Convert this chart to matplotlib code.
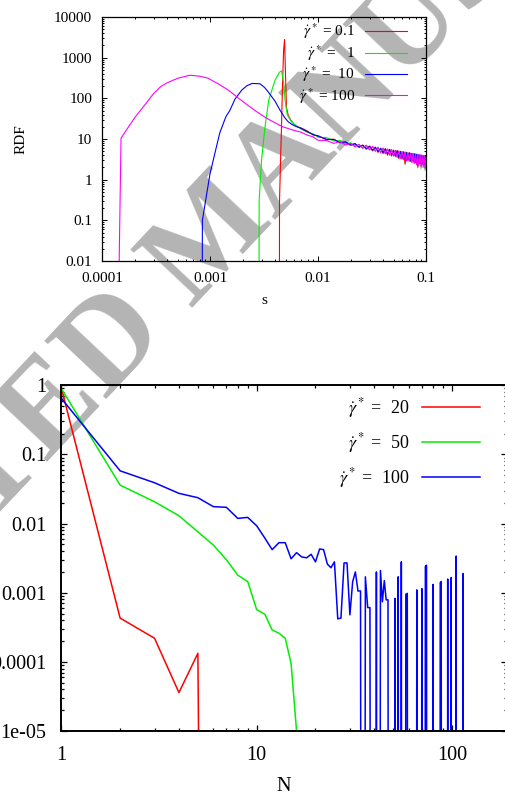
import matplotlib
matplotlib.use('Agg')
import matplotlib.pyplot as plt
from matplotlib.ticker import FixedLocator, FuncFormatter, NullFormatter, LogLocator
import numpy as np

plt.rcParams['font.family'] = ['Liberation Serif', 'DejaVu Serif']
plt.rcParams['mathtext.fontset'] = 'stix'

# ---------- top panel: RDF vs s ----------
# rising part of each curve (0 = empty bin)
s_head_01 = [0.0043, 0.0044, 0.0045, 0.0046, 0.0047, 0.0048, 0.0049, 0.0050, 0.0051, 0.0053, 0.0056, 0.0060, 0.0065]
g_head_01 = [0, 0.3, 3, 25, 250, 1500, 2800, 400, 60, 38, 29, 23, 20]

s_head_1 = [0.0028, 0.00285, 0.0030, 0.00323, 0.0035, 0.0040, 0.0044, 0.0046, 0.0048, 0.00495, 0.0052, 0.0056, 0.0060, 0.0065]
g_head_1 = [0, 0.3, 3.0, 20, 91, 280, 440, 470, 250, 91, 39, 28, 23, 20]

s_head_10 = [0.0008, 0.00085, 0.0010, 0.00123, 0.0014, 0.00153, 0.0017, 0.00197, 0.0022, 0.00245, 0.0029,
             0.0032, 0.00345, 0.0040, 0.00445, 0.0049, 0.0053, 0.0057, 0.0062]
g_head_10 = [0, 0.1, 1.4, 14, 35, 51, 95, 160, 205, 232, 228, 185, 145, 85, 51, 34, 26.5, 23, 20.5]

s_head_100 = [0.0001, 0.00015, 0.0002, 0.00025, 0.0003, 0.00035, 0.0004, 0.0005, 0.00065, 0.0008, 0.00095,
              0.0012, 0.0015, 0.0018, 0.0022, 0.0027, 0.0033, 0.0040, 0.0047, 0.0055, 0.0060]
g_head_100 = [0, 10.5, 33, 70, 130, 195, 240, 310, 370, 350, 315, 225, 155, 105, 70, 47, 33, 25, 20, 17.5, 16.3]

# noisy common tail
s_tail = [0.007, 0.008, 0.009, 0.010, 0.012, 0.014, 0.016, 0.018, 0.020, 0.022, 0.024, 0.026, 0.028, 0.030,
          0.032, 0.034, 0.036, 0.038, 0.040, 0.042, 0.044, 0.046, 0.048, 0.050, 0.052, 0.054, 0.056, 0.058,
          0.060, 0.062, 0.064, 0.066, 0.068, 0.070, 0.072, 0.074, 0.076, 0.078, 0.080, 0.082, 0.084, 0.086,
          0.088, 0.090, 0.092, 0.094, 0.096, 0.098, 0.100]
g_tail_01 = [18.6, 15.6, 12.6, 12.1, 9.6, 9.9, 8.0, 8.6, 7.0, 7.8, 6.2, 7.1, 5.6, 6.7, 5.1, 6.3, 4.7, 5.9,
             4.4, 5.8, 4.0, 5.6, 3.8, 5.3, 3.7, 5.2, 3.3, 5.0, 3.2, 4.8, 2.4, 4.7, 2.9, 4.6, 2.8, 4.4, 2.7,
             4.3, 2.6, 4.2, 2.0, 4.1, 2.5, 4.0, 2.4, 3.9, 2.3, 3.8, 2.4]
g_tail_1 = [17.4, 14.6, 13.5, 11.0, 10.8, 8.9, 9.2, 7.5, 8.1, 6.7, 7.4, 6.0, 7.0, 5.5, 6.5, 5.1, 6.1, 4.8,
            5.8, 4.5, 5.6, 4.2, 5.4, 4.0, 5.2, 3.7, 5.0, 3.6, 4.9, 3.3, 4.7, 3.2, 4.6, 3.0, 4.4, 2.9, 4.3,
            2.8, 4.2, 2.6, 4.1, 2.5, 4.0, 1.9, 3.9, 2.3, 3.8, 1.7, 3.6]
g_tail_10 = [18.2, 15.0, 12.8, 11.8, 9.8, 9.7, 8.2, 8.4, 7.1, 7.6, 6.3, 7.0, 5.8, 6.6, 5.3, 6.2, 4.9, 5.9,
             4.6, 5.7, 4.3, 5.5, 4.1, 5.2, 3.9, 5.1, 3.6, 4.9, 3.4, 4.8, 3.3, 4.6, 3.1, 4.5, 3.0, 4.4, 2.9,
             4.3, 2.7, 4.2, 2.6, 4.1, 2.5, 4.0, 2.4, 3.9, 2.3, 3.8, 2.5]
g_tail_100 = [14.6, 12.4, 11.3, 9.3, 9.2, 7.8, 8.6, 7.1, 7.8, 6.4, 7.3, 5.9, 7.0, 5.4, 6.6, 5.0, 6.3, 4.6,
              6.0, 4.3, 5.7, 4.0, 5.5, 3.8, 5.3, 3.5, 5.1, 3.3, 4.9, 3.1, 4.8, 2.9, 4.6, 2.8, 4.5, 2.6, 4.4,
              2.5, 4.3, 2.3, 4.2, 2.2, 4.1, 2.1, 4.0, 2.0, 3.9, 1.9, 3.7]

top_labels = [r'$\dot{\gamma}^*$ = 0.1', r'$\dot{\gamma}^*$ =   1',
              r'$\dot{\gamma}^*$ =  10', r'$\dot{\gamma}^*$ = 100']

# ---------- bottom panel: distribution vs N ----------
n_20 = [1, 2, 3, 4, 5, 6]
p_20 = [0.92, 4.3e-4, 2.2e-4, 3.6e-5, 1.33e-4, 0]

n_50 = list(range(1, 18))
p_50 = [0.90, 0.036, 0.0207, 0.013, 0.0076, 0.0049, 0.0030, 0.0018, 0.00145, 0.00057, 0.00049,
        0.00029, 0.00026, 0.00022, 9.5e-5, 1.0e-5, 0]

n_100 = list(range(1, 121))
p_100 = [0.65, 0.058, 0.039, 0.0274, 0.0237, 0.0176, 0.0172, 0.0119, 0.0123, 0.0093,
         0.0062, 0.0042, 0.0053, 0.0053, 0.0031, 0.0038, 0.0033, 0.0032, 0.0036, 0.0028,
         0.0043, 0.0042, 0.0026, 0.0023, 0.0028, 0.00042, 0.00043, 0.0027, 0.0027, 0.00048,
         0.00145, 0.0020, 0.00106, 0.00106, 0, 0.0017, 0.00061, 0.00061, 0, 0,
         0.0020, 0, 0.0021, 0.00074, 0.0015, 0.00079, 0.00079, 0, 0, 0,
         0.00083, 0, 0.0017, 0, 0.0028, 0, 0, 0.00095, 0.00098, 0,
         0, 0, 0, 0, 0, 0.0011, 0, 0, 0, 0.00115,
         0, 0, 0.0024, 0.0025, 0, 0, 0, 0, 0, 0.00132,
         0, 0, 0, 0, 0, 0, 0.0014, 0.00145, 0, 0,
         0, 0, 0, 0, 0.00158, 0, 0, 0, 0.00166, 0,
         0, 0, 0, 0, 0.0034, 0, 0, 0, 0, 0,
         0, 0, 0, 0.0019, 0, 0, 0, 0, 0, 0]

bottom_labels = [r'$\dot{\gamma}^*$ =  20', r'$\dot{\gamma}^*$ =  50', r'$\dot{\gamma}^*$ =  100']

colors = ['#ff0000', '#00ee00', '#0000ff', '#ff00ff']
FLOOR = 1e-30   # empty bins drop below the axis like in gnuplot


def nz(v):
    v = np.asarray(v, dtype=float)
    return np.where(v > 0, v, FLOOR)


def gformat(v, pos):
    return '%g' % v


fig = plt.figure(figsize=(5.05, 7.94), dpi=100)

# watermark behind everything
fig.text(0.47, 0.672, 'ACCEPTED MANUSCRIPT', rotation=46.7, rotation_mode='anchor',
         ha='center', va='baseline', fontsize=93, fontweight='bold', color='#b4b4b4', zorder=-1)

# ---- top ----
ax1 = fig.add_axes([0.202, 0.6713, 0.6416, 0.3073])
ax1.set_facecolor('none')
top_series = [(s_head_01, g_head_01, g_tail_01), (s_head_1, g_head_1, g_tail_1),
              (s_head_10, g_head_10, g_tail_10), (s_head_100, g_head_100, g_tail_100)]
for (sh, gh, gt), c, lab in zip(top_series, colors, top_labels):
    ax1.plot(list(sh) + s_tail, nz(list(gh) + gt), color=c, lw=0.8, label=lab)
ax1.set_xscale('log')
ax1.set_yscale('log')
ax1.set_xlim(1e-4, 0.1)
ax1.set_ylim(0.01, 10000)
ax1.xaxis.set_major_locator(FixedLocator([1e-4, 1e-3, 1e-2, 1e-1]))
ax1.yaxis.set_major_locator(FixedLocator([0.01, 0.1, 1, 10, 100, 1000, 10000]))
for a in (ax1.xaxis, ax1.yaxis):
    a.set_major_formatter(FuncFormatter(gformat))
    a.set_minor_locator(LogLocator(subs=np.arange(2, 10), numticks=50))
    a.set_minor_formatter(NullFormatter())
ax1.tick_params(which='both', direction='in', top=True, right=True, width=0.7)
ax1.tick_params(which='major', length=3.4, labelsize=11)
ax1.tick_params(which='minor', length=1.7)
ax1.tick_params(axis='y', pad=7)
ax1.tick_params(axis='x', pad=8)
for sp in ax1.spines.values():
    sp.set_linewidth(0.9)
ax1.set_ylabel('RDF', fontsize=11)
ax1.yaxis.set_label_coords(-0.23, 0.5)
ax1.set_xlabel('s', fontsize=11)
ax1.xaxis.set_label_coords(0.5, -0.135)
ax1.legend(loc='upper right', bbox_to_anchor=(0.9404, 0.98), frameon=False, markerfirst=False,
           handlelength=2.7, handletextpad=0.7, labelspacing=0.12, borderpad=0, borderaxespad=0,
           fontsize=11)

# ---- bottom ----
ax2 = fig.add_axes([0.1214, 0.0793, 0.8816, 0.4354])
ax2.set_facecolor('none')
for n, p, c, lab in zip([n_20, n_50, n_100], [p_20, p_50, p_100], colors[:3], bottom_labels):
    ax2.plot(n, nz(p), color=c, lw=1.1, label=lab)
ax2.set_xscale('log')
ax2.set_yscale('log')
ax2.set_xlim(1, 190)
ax2.set_ylim(1e-5, 1)
ax2.xaxis.set_major_locator(FixedLocator([1, 10, 100]))
ax2.yaxis.set_major_locator(FixedLocator([1e-5, 1e-4, 1e-3, 1e-2, 1e-1, 1]))
for a in (ax2.xaxis, ax2.yaxis):
    a.set_major_formatter(FuncFormatter(gformat))
    a.set_minor_locator(LogLocator(subs=np.arange(2, 10), numticks=50))
    a.set_minor_formatter(NullFormatter())
ax2.tick_params(which='both', direction='in', top=True, right=True, width=0.9)
ax2.tick_params(which='major', length=4.3, labelsize=14.6)
ax2.tick_params(which='minor', length=2.3)
ax2.tick_params(axis='y', pad=11)
ax2.tick_params(axis='x', pad=11)
for sp in ax2.spines.values():
    sp.set_linewidth(1.4)
ax2.set_xlabel('N', fontsize=14.6)
ax2.xaxis.set_label_coords(0.5, -0.133)
ax2.legend(loc='upper right', bbox_to_anchor=(0.9405, 0.969), frameon=False, markerfirst=False,
           handlelength=3.2, handletextpad=0.74, labelspacing=0.6, borderpad=0, borderaxespad=0,
           fontsize=13)

fig.savefig('out.png', dpi=100)
